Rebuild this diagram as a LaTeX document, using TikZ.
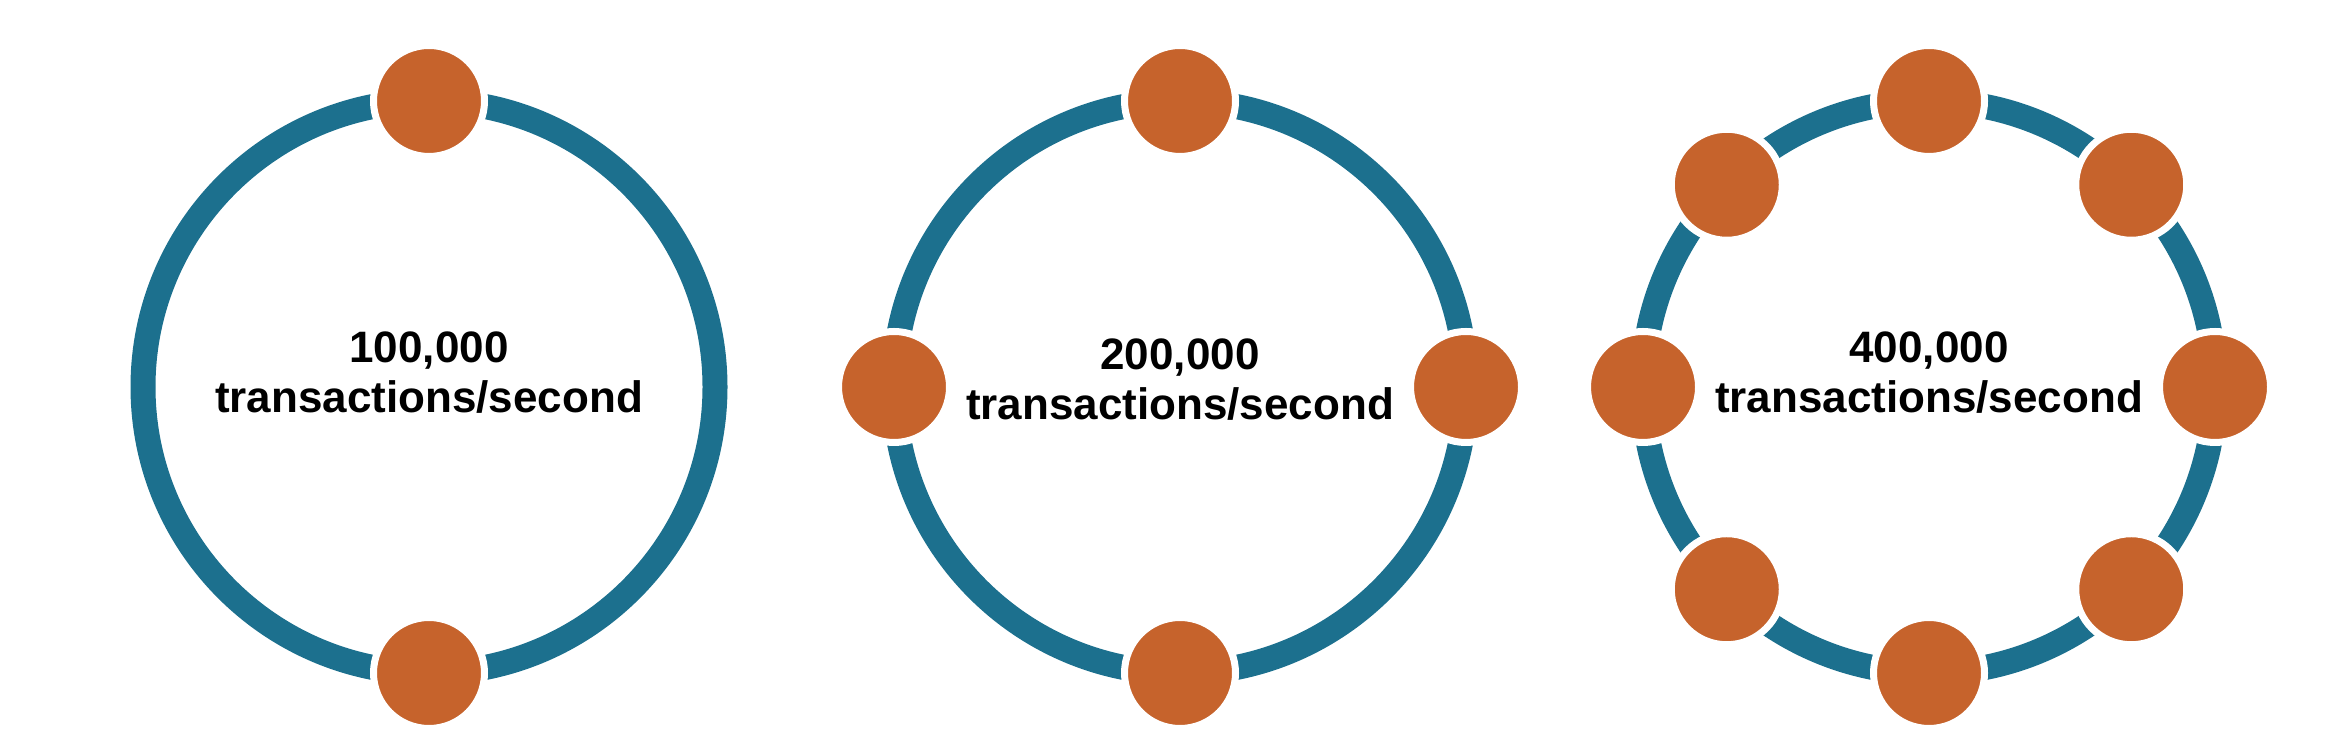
\documentclass[tikz,border=0pt]{standalone}
\usepackage{fontspec}
\setmainfont{Liberation Sans}
\usetikzlibrary{positioning}
\definecolor{ringblue}{RGB}{28,112,142}
\definecolor{nodeorange}{RGB}{198,99,44}

\begin{document}
\begin{tikzpicture}[x=1pt,y=1pt,
  ring/.style={draw=ringblue,line width=25pt},
  server/.style={circle,fill=nodeorange,draw=white,line width=7pt,minimum size=111pt,inner sep=0pt},
  rate/.style={align=center,inner sep=0pt,font=\fontsize{44}{50}\selectfont\bfseries}]
\useasboundingbox (0,0) rectangle (2350,743);
\foreach \cx/\n/\lab/\dy in {429/2/100/14,1180/4/200/7,1929/8/400/14}{
  \coordinate (c\n) at (\cx,356);
  \draw[ring] (c\n) circle (286);
  \foreach \k in {1,...,\n}
    \node[server] (s\n-\k) at ([shift={({90+360*\k/\n}:286)}]c\n) {};
  \node[rate] (t\n) at ([yshift=\dy]c\n) {\lab,000\\transactions/second};
}
\end{tikzpicture}
\end{document}
